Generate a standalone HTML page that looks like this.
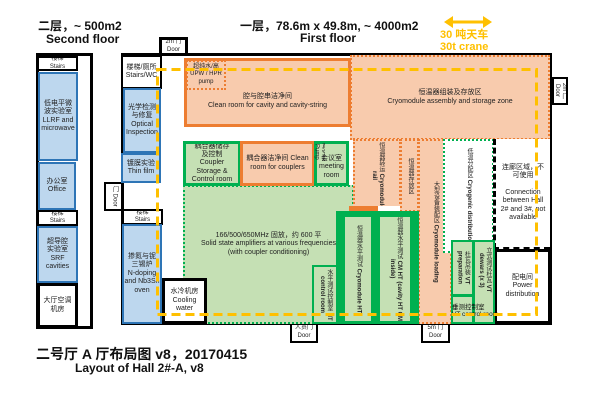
<!DOCTYPE html>
<html><head><meta charset="utf-8"><style>
body{margin:0;width:600px;height:404px;background:#fff;position:relative;overflow:hidden;font-family:"Liberation Sans","Noto Sans CJK SC",sans-serif;}
.b{position:absolute;box-sizing:border-box;display:flex;align-items:center;justify-content:center;text-align:center;font-size:7px;line-height:1.2;color:#222;overflow:hidden}
.k{border:2px solid #000;background:#fff}
.bl{background:#bdd7ee;border:2px solid #2e75b6}
.or{background:#f8cbad;border:2px solid #ed7d31}
.od{background:#f8cbad;border:2px dotted #ed7d31}
.gr{background:#c5e0b4;border:3px solid #00b050}
.gd{background:#c5e0b4;border:2px dotted #00b050}
.v{writing-mode:vertical-rl;font-size:6px;line-height:1.15}
.t{position:absolute;font-weight:bold;white-space:nowrap;color:#111}
</style></head><body>
<div class="t" style="left:38px;top:17px;font-size:12px">二层，~ 500m2</div>
<div class="t" style="left:46px;top:32px;font-size:12px">Second floor</div>
<div class="t" style="left:240px;top:17px;font-size:12px">一层，78.6m x 49.8m, ~ 4000m2</div>
<div class="t" style="left:300px;top:31px;font-size:12px">First floor</div>
<div class="t" style="left:440px;top:26px;font-size:11px;color:#ffc000">30 吨天车</div>
<div class="t" style="left:440px;top:41px;font-size:11px;color:#ffc000">30t crane</div>
<svg style="position:absolute;left:444px;top:16px" width="48" height="12"><path d="M2 6H46" stroke="#ffc000" stroke-width="3"/><path d="M0 6L9 0V12Z M48 6L39 0V12Z" fill="#ffc000"/></svg>
<div class="t" style="left:36px;top:344px;font-size:14px">二号厅 A 厅布局图 v8，20170415</div>
<div class="t" style="left:75px;top:361px;font-size:12px">Layout of Hall 2#-A, v8</div>

<div class="b k" style="left:36px;top:53px;width:57px;height:276px;border-width:3px"></div>
<div class="b k" style="left:37px;top:56px;width:41px;height:15px;font-size:6px">楼梯<br>Stairs</div>
<div class="b bl" style="left:38px;top:72px;width:40px;height:89px">低电平微<br>波实验室<br>LLRF and<br>microwave</div>
<div class="b bl" style="left:38px;top:162px;width:38px;height:48px">办公室<br>Office</div>
<div class="b k" style="left:37px;top:210px;width:41px;height:16px;font-size:6px">楼梯<br>Stairs</div>
<div class="b bl" style="left:37px;top:226px;width:41px;height:57px">超导腔<br>实验室<br>SRF cavities</div>
<div class="b k" style="left:37px;top:283px;width:41px;height:45px;border-width:3px">大厅空调<br>机房</div>

<div class="b k" style="left:159px;top:37px;width:29px;height:19px;border-width:3px;font-size:6px">2m 门<br>Door</div>
<div class="b k" style="left:552px;top:77px;width:16px;height:28px"><span class="v">2m 门 Door</span></div>
<div class="b k" style="left:104px;top:182px;width:20px;height:29px"><span class="v">门 Door</span></div>
<div class="b k" style="left:290px;top:322px;width:28px;height:21px;font-size:6px">人员门<br>Door</div>
<div class="b k" style="left:421px;top:322px;width:29px;height:21px;font-size:6px">5m 门<br>Door</div>
<div class="b k" style="left:121px;top:53px;width:431px;height:272px;border-width:3px"></div>

<div class="b od" style="left:350px;top:55px;width:200px;height:85px">恒温器组装及存放区<br>Cryomodule assembly and storage zone</div>
<div class="b or" style="left:184px;top:58px;width:167px;height:69px;border-width:3px;padding-top:18px">腔与腔串洁净间<br>Clean room for cavity and cavity-string</div>
<div class="b" style="left:186px;top:60px;width:40px;height:30px;border:2px dotted #ed7d31;font-size:6px">超纯水/高<br>UPW / HPR<br>pump</div>

<div class="b gd" style="left:183px;top:185px;width:171px;height:139px;padding-bottom:20px">166/500/650MHz 固放，约 600 平<br>Solid state amplifiers at various frequencies<br>(with coupler conditioning)</div>
<div class="b gr" style="left:183px;top:141px;width:58px;height:45px">耦合器储存<br>及控制<br>Coupler<br>Storage &amp;<br>Control room</div>
<div class="b or" style="left:240px;top:141px;width:75px;height:45px;border-width:3px">耦合器洁净间 Clean<br>room for couplers</div>
<div class="b gr" style="left:314px;top:141px;width:35px;height:45px;padding-top:8px">会议室<br>meeting<br>room</div>
<div class="b" style="left:314px;top:142px;width:11px;height:20px"><span class="v">真空泵 Pump</span></div>

<div class="b od" style="left:353px;top:139px;width:48px;height:73px"><span class="v">恒温器转运 <b>Cryomodule rail</b></span></div>
<div class="b" style="left:378px;top:206px;width:22px;height:6px;background:#fff"></div>
<div class="b" style="left:349px;top:206px;width:29px;height:7px;background:#ed7d31"></div>
<div class="b od" style="left:400px;top:139px;width:19px;height:73px"><span class="v">恒温器存放区</span></div>
<div class="b od" style="left:418px;top:139px;width:34px;height:185px"><span class="v">大型设备装配区 <b>Cryomodule loading</b></span></div>
<div class="b" style="left:443px;top:139px;width:51px;height:114px;background:#fff;border:2px dotted #00b050"><span class="v">低温分配区 <b>Cryogenic distribution</b></span></div>
<div class="b" style="left:493px;top:139px;width:57px;height:110px;background:#fff;border-left:3px dashed #000;border-bottom:2px dashed #000">连廊区域，不<br>可使用<br><br>Connection<br>between Hall<br>2# and 3#, not<br>available</div>
<div class="b k" style="left:494px;top:249px;width:57px;height:75px;border-width:3px">配电间<br>Power<br>distribution</div>

<div class="b gr" style="left:451px;top:240px;width:23px;height:56px;border-width:2px"><span class="v">杜瓦吊装 <b>VT preparation</b></span></div>
<div class="b gr" style="left:473px;top:240px;width:22px;height:84px;border-width:2px;padding-bottom:24px"><span class="v">立式测试杜瓦 <b>VT dewars (x 3)</b></span></div>
<div class="b gr" style="left:451px;top:295px;width:23px;height:29px;border-width:2px"></div>
<div class="t" style="left:452px;top:301px;font-size:6.5px;font-weight:normal">垂测控制室<br>VT control room</div>

<div class="b" style="left:336px;top:211px;width:83px;height:113px;background:#00b050"></div>
<div class="b" style="left:345px;top:217px;width:26px;height:104px;background:#c5e0b4"><span class="v">恒温器水平测试 <b>Cryomodule HT</b></span></div>
<div class="b" style="left:380px;top:217px;width:30px;height:104px;background:#c5e0b4"><span class="v">恒温器水平测试 <b>CM HT (cavity HT CM inside)</b></span></div>
<div class="b gr" style="left:312px;top:265px;width:26px;height:59px;border-width:2px"><span class="v">水平测试控制室 <b>HT control room</b></span></div>

<div class="b k" style="left:121px;top:55px;width:41px;height:34px">楼梯/厕所<br>Stairs/WC</div>
<div class="b bl" style="left:123px;top:88px;width:38px;height:65px">光学检测<br>与修复<br>Optical<br>Inspection</div>
<div class="b bl" style="left:121px;top:153px;width:40px;height:30px">镀膜实验<br>Thin film</div>
<div class="b k" style="left:122px;top:209px;width:41px;height:16px;font-size:6px">楼梯<br>Stairs</div>
<div class="b bl" style="left:122px;top:224px;width:40px;height:100px">掺氮与铌<br>三锡炉<br>N-doping<br>and Nb3Sn<br>oven</div>
<div class="b k" style="left:162px;top:278px;width:45px;height:46px;border-width:3px">水冷机房<br>Cooling<br>water</div>

<svg style="position:absolute;left:0;top:0" width="600" height="404"><rect x="157.5" y="69.5" width="379" height="245" fill="none" stroke="#ffc000" stroke-width="3" stroke-dasharray="9 5"/></svg>
</body></html>
